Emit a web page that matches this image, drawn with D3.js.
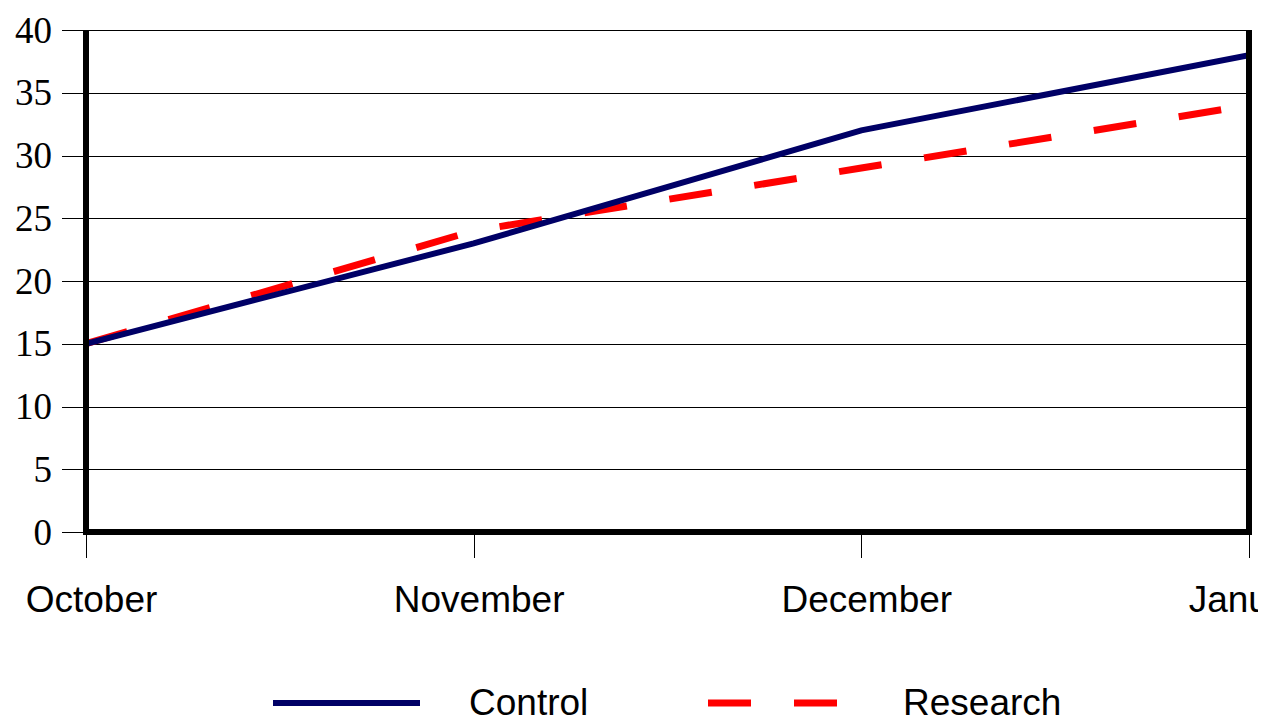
<!DOCTYPE html>
<html><head><meta charset="utf-8">
<script src="https://cdn.jsdelivr.net/npm/d3@7"></script>
<style>html,body{margin:0;padding:0;background:#fff;overflow:hidden}</style>
</head><body>
<svg id="c" width="1268" height="721"></svg>
<script>
const categories = ["October", "November", "December", "January"];
const controlValues = [15, 23, 32, 38];
const researchValues = [15, 24, 29, 34];
const yTicks = [0, 5, 10, 15, 20, 25, 30, 35, 40];
const seriesNames = ["Control", "Research"];

const svg = d3.select("#c");
const L = 86, R = 1249, T = 30, B = 532;
const x = d3.scalePoint().domain(categories).range([L, R]);
const y = d3.scaleLinear().domain([0, 40]).range([B, T]);

// gridlines + y ticks
const yAxis = d3.axisLeft(y).tickValues(yTicks).tickSize(-(R - 62)).tickPadding(0).tickFormat(d => d);
const gy = svg.append("g").attr("transform", `translate(62,0)`).call(yAxis);
gy.select(".domain").remove();
gy.selectAll(".tick line").attr("stroke", "#000").attr("stroke-width", 1).attr("shape-rendering", "crispEdges");
gy.selectAll(".tick text").attr("x", -10).attr("dy", "0.33em")
  .attr("font-family", "'Liberation Serif', 'Times New Roman', serif").attr("font-size", 37).attr("fill", "#000");

// x ticks
svg.append("clipPath").attr("id", "clp").append("rect").attr("x", 0).attr("y", 0).attr("width", 1258).attr("height", 721);
const xAxis = d3.axisBottom(x).tickSize(26).tickPadding(0);
const gx = svg.append("g").attr("transform", `translate(0,${B})`).attr("clip-path", "url(#clp)").call(xAxis);
gx.select(".domain").remove();
gx.selectAll(".tick line").attr("stroke", "#000").attr("stroke-width", 1).attr("shape-rendering", "crispEdges");
gx.selectAll(".tick text").attr("y", 80).attr("dy", 0).attr("dx", 5)
  .attr("font-family", "'Liberation Sans', Arial, sans-serif").attr("font-size", 37).attr("fill", "#000");

// lines
const line = d3.line().x((d, i) => x(categories[i])).y(d => y(d));
const plot = svg.append("g");
plot.append("clipPath").attr("id", "pclip").append("rect").attr("x", L).attr("y", 0).attr("width", R - L).attr("height", 721);
plot.append("path").datum(researchValues).attr("d", line).attr("clip-path", "url(#pclip)")
  .attr("fill", "none").attr("stroke", "#ff0000").attr("stroke-width", 7).attr("stroke-dasharray", "43,43");
plot.append("path").datum(controlValues).attr("d", line).attr("clip-path", "url(#pclip)")
  .attr("fill", "none").attr("stroke", "#000066").attr("stroke-width", 6);

// axes frame (thick)
svg.append("line").attr("x1", L).attr("x2", L).attr("y1", T).attr("y2", B + 3).attr("stroke", "#000").attr("stroke-width", 6);
svg.append("line").attr("x1", R).attr("x2", R).attr("y1", T).attr("y2", B + 3).attr("stroke", "#000").attr("stroke-width", 6);
svg.append("line").attr("x1", L - 3).attr("x2", R + 3).attr("y1", B).attr("y2", B).attr("stroke", "#000").attr("stroke-width", 6);

// legend
const lg = svg.append("g");
lg.append("line").attr("x1", 273).attr("x2", 420).attr("y1", 703).attr("y2", 703).attr("stroke", "#000066").attr("stroke-width", 6);
lg.append("text").attr("x", 469).attr("y", 715).text(seriesNames[0])
  .attr("font-family", "'Liberation Sans', Arial, sans-serif").attr("font-size", 37).attr("fill", "#000");
lg.append("line").attr("x1", 708).attr("x2", 852).attr("y1", 703).attr("y2", 703).attr("stroke", "#ff0000").attr("stroke-width", 7).attr("stroke-dasharray", "43,43");
lg.append("text").attr("x", 903).attr("y", 715).text(seriesNames[1])
  .attr("font-family", "'Liberation Sans', Arial, sans-serif").attr("font-size", 37).attr("fill", "#000");
</script>
</body></html>
